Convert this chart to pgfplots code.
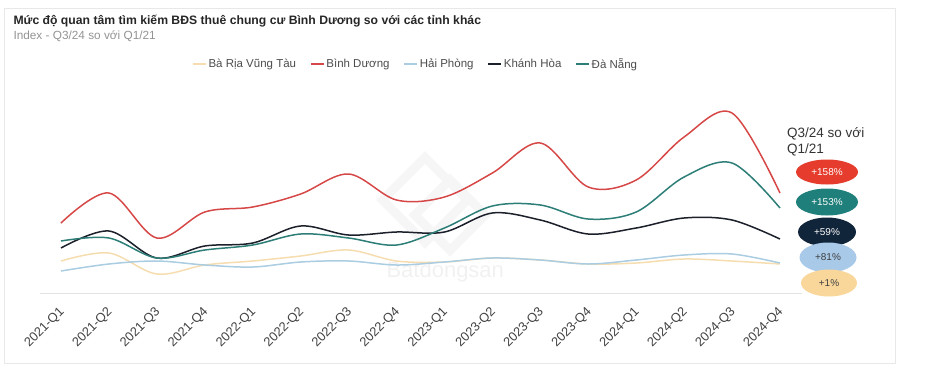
\documentclass[border=0pt]{standalone}
\usepackage{pgfplots}
\usepackage{pgfplotstable}
\pgfplotsset{compat=1.18}
\usepackage{fontspec}
\setmainfont{Liberation Sans}
\definecolor{cRed}{HTML}{D64848}
\definecolor{cTeal}{HTML}{2C7E77}
\definecolor{cBlack}{HTML}{1C202B}
\definecolor{cBlue}{HTML}{AACDE2}
\definecolor{cYellow}{HTML}{F6DDB0}
\definecolor{bRed}{HTML}{E53C2D}
\definecolor{bTeal}{HTML}{1F7F7A}
\definecolor{bNavy}{HTML}{10243A}
\definecolor{bBlue}{HTML}{A8C9E8}
\definecolor{bYellow}{HTML}{F9D79B}
\pgfplotstableread{
x brvt bd hp kh dn
0 32 70 22 45 52
1 40 100 29 62 55
2 19 55 32 35 35
3 28 81 28 47 43
4 32 86 26 50 48
5 37 99 31 67 59
6 43 119 32 58 55
7 32 93 28 61 48
8 31 96 31 61 65
9 35 120 35 80 87
10 33 150 33 73 88
11 29 106 29 59 74
12 30 113 33 65 81
13 34 156 38 75 116
14 32 180 39 73 130
15 29 100 30 54 85
}\data
\begin{document}
\begin{tikzpicture}[x=1pt,y=1pt]
\path[use as bounding box] (0,0) rectangle (936,-370);
\draw[color=gray!18, line width=0.8pt] (4,-8) rectangle (895,-363);
% watermark
\begin{scope}[gray!7, line width=9pt]
\draw[rotate around={45:(425,-200)}] (395,-230) rectangle (455,-170);
\draw[rotate around={45:(450,-215)}] (425,-240) rectangle (475,-190);
\end{scope}
\node[anchor=base west, font=\fontsize{22}{24}\selectfont, text=gray!11] at (383,-277) {Batdongsan};
\node[anchor=base west, font=\bfseries\fontsize{12.2}{15}\selectfont, text=black!85] at (10,-24) {Mức độ quan tâm tìm kiếm BĐS thuê chung cư Bình Dương so với các tỉnh khác};
\node[anchor=base west, font=\fontsize{11.8}{13}\selectfont, text=gray!85] at (10,-39.5) {Index - Q3/24 so với Q1/21};
\begin{axis}[
  at={(40pt,-293pt)}, anchor=south west,
  scale only axis, width=762pt, height=200pt,
  xmin=-0.438, xmax=15.46, ymin=0, ymax=200,
  axis x line*=bottom, axis y line=none,
  axis line style={-, draw=gray!22, line width=0.8pt},
  xtick={0,...,15},
  xticklabels={2021-Q1,2021-Q2,2021-Q3,2021-Q4,2022-Q1,2022-Q2,2022-Q3,2022-Q4,2023-Q1,2023-Q2,2023-Q3,2023-Q4,2024-Q1,2024-Q2,2024-Q3,2024-Q4},
  xticklabel style={rotate=45, anchor=north east, font=\fontsize{12.8}{14}\selectfont, text=black!75, yshift=-3.9pt, xshift=-7.8pt},
  major tick length=0pt,
  ytick=\empty,
  clip=false,
  legend columns=5,
  legend style={at={(0.493,1.145)}, anchor=center, draw=none, fill=none,
    font=\fontsize{11.5}{13}\selectfont, text=black!70,
    /tikz/every even column/.append style={column sep=12pt}},
  legend image code/.code={\draw[#1, line width=1.3pt] (0pt,0pt) -- (13pt,0pt);},
  every axis plot/.append style={line width=1.5pt, smooth, tension=0.55, no markers},
]
\addplot[cYellow] table[x=x,y=brvt] {\data};
\addlegendentry{Bà Rịa Vũng Tàu}
\addplot[cRed] table[x=x,y=bd] {\data};
\addlegendentry{Bình Dương}
\addplot[cBlue] table[x=x,y=hp] {\data};
\addlegendentry{Hải Phòng}
\addplot[cBlack] table[x=x,y=kh] {\data};
\addlegendentry{Khánh Hòa}
\addplot[cTeal] table[x=x,y=dn] {\data};
\addlegendentry{Đà Nẵng}
\end{axis}
\node[anchor=north west, align=left, font=\fontsize{13.5}{16}\selectfont, text=black!80, inner sep=0pt] at (787,-127) {Q3/24 so với\\Q1/21};
\fill[bRed] (827,-172) ellipse [x radius=31, y radius=12.5];
\node[font=\fontsize{10}{12}\selectfont, text=white] at (827,-172) {+158\%};
\fill[bTeal] (827,-202) ellipse [x radius=31, y radius=13.5];
\node[font=\fontsize{10}{12}\selectfont, text=white] at (827,-202) {+153\%};
\fill[bNavy] (827,-232) ellipse [x radius=29, y radius=14.5];
\node[font=\fontsize{10}{12}\selectfont, text=white] at (827,-232) {+59\%};
\fill[bBlue] (828,-257.5) ellipse [x radius=28.5, y radius=15];
\node[font=\fontsize{10}{12}\selectfont, text=black!75] at (828,-257.5) {+81\%};
\fill[bYellow] (829,-283) ellipse [x radius=28, y radius=13.5];
\node[font=\fontsize{10}{12}\selectfont, text=black!75] at (829,-283) {+1\%};
\end{tikzpicture}
\end{document}
